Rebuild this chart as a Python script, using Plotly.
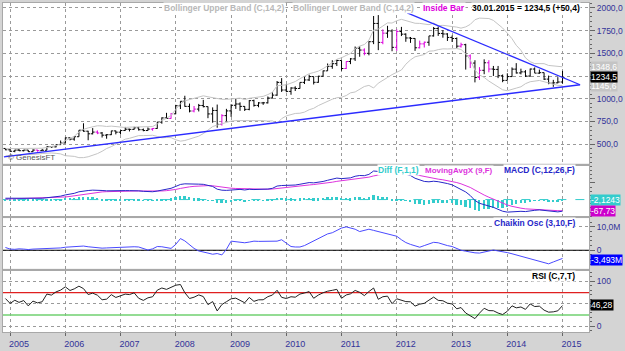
import numpy as np
import pandas as pd
import plotly.graph_objects as go

# ---------------- data (monthly bars, Dec 2004 .. Jan 2015) ----------------
dates = pd.date_range("2004-12-01", "2015-01-01", freq="MS")
# closes before the first visible bar (only used to warm up the indicators)
warmup_dates = pd.date_range("2004-01-01", "2004-11-01", freq="MS")
warmup_close = [400, 396, 424, 388, 395, 395, 391, 407, 416, 428, 453]

price_open = [453,
    438, 422, 435, 428, 435, 417, 435, 429, 433, 473, 470, 495,
    513, 569, 556, 582, 654, 643, 614, 633, 623, 599, 604, 646,
    632, 650, 665, 663, 680, 659, 650, 666, 673, 743, 789, 783,
    834, 923, 972, 916, 865, 886, 926, 913, 833, 871, 718, 814,
    866, 928, 942, 916, 883, 979, 927, 954, 955, 1008, 1040, 1180,
    1096, 1081, 1118, 1113, 1180, 1207, 1244, 1181, 1248, 1307, 1357, 1386,
    1421, 1333, 1410, 1439, 1556, 1536, 1500, 1628, 1829, 1620, 1722, 1746,
    1566, 1740, 1711, 1669, 1664, 1561, 1604, 1622, 1692, 1773, 1719, 1713,
    1675, 1663, 1579, 1595, 1472, 1393, 1234, 1313, 1396, 1327, 1323, 1253,
    1202, 1244, 1326, 1284, 1296, 1250, 1327, 1282, 1287, 1216, 1172, 1175,
    1184]
price_high = [456,
    444, 438, 447, 438, 436, 443, 438, 448, 474, 478, 498, 540,
    573, 574, 587, 654, 730, 647, 677, 651, 634, 610, 648, 649,
    652, 690, 670, 692, 691, 672, 684, 676, 745, 795, 845, 842,
    933, 973, 1033, 947, 920, 943, 988, 915, 905, 936, 830, 889,
    939, 1006, 960, 919, 985, 990, 963, 965, 1025, 1070, 1195, 1227,
    1162, 1127, 1137, 1180, 1249, 1265, 1245, 1253, 1310, 1388, 1424, 1432,
    1423, 1412, 1448, 1575, 1577, 1555, 1632, 1911, 1921, 1764, 1803, 1764,
    1764, 1791, 1720, 1680, 1666, 1640, 1630, 1692, 1790, 1796, 1755, 1722,
    1696, 1675, 1617, 1605, 1488, 1424, 1348, 1434, 1424, 1361, 1361, 1267,
    1280, 1345, 1392, 1331, 1315, 1332, 1345, 1321, 1288, 1255, 1208, 1238,
    1307]
price_low = [434,
    414, 411, 424, 420, 414, 414, 417, 429, 433, 460, 465, 490,
    513, 542, 538, 582, 637, 543, 608, 610, 573, 560, 600, 608,
    607, 647, 640, 660, 650, 642, 648, 648, 670, 725, 780, 780,
    830, 887, 913, 850, 850, 860, 905, 786, 736, 681, 705, 752,
    800, 888, 867, 865, 873, 913, 906, 933, 948, 1003, 1033, 1075,
    1072, 1044, 1085, 1111, 1162, 1195, 1157, 1176, 1245, 1307, 1330, 1360,
    1309, 1328, 1381, 1416, 1462, 1478, 1478, 1601, 1535, 1600, 1670, 1523,
    1527, 1690, 1627, 1615, 1527, 1554, 1564, 1583, 1684, 1692, 1672, 1636,
    1625, 1555, 1563, 1321, 1338, 1180, 1207, 1270, 1291, 1251, 1227, 1182,
    1202, 1240, 1277, 1268, 1240, 1241, 1282, 1274, 1206, 1160, 1131, 1170,
    1167]
price_close = [438,
    422, 435, 428, 435, 417, 435, 429, 433, 473, 470, 495, 513,
    569, 556, 582, 654, 643, 614, 633, 623, 599, 604, 646, 632,
    650, 665, 663, 680, 659, 650, 666, 673, 743, 789, 783, 834,
    923, 972, 916, 865, 886, 926, 913, 833, 871, 718, 814, 866,
    928, 942, 916, 883, 979, 927, 954, 955, 1008, 1040, 1180, 1096,
    1081, 1118, 1113, 1180, 1207, 1244, 1181, 1248, 1307, 1357, 1386, 1421,
    1333, 1410, 1439, 1556, 1536, 1500, 1628, 1829, 1620, 1722, 1746, 1566,
    1740, 1711, 1669, 1664, 1561, 1604, 1622, 1692, 1773, 1719, 1713, 1675,
    1663, 1579, 1595, 1472, 1393, 1234, 1313, 1396, 1327, 1323, 1253, 1202,
    1244, 1326, 1284, 1296, 1250, 1327, 1282, 1287, 1216, 1172, 1175, 1184.1,
    1234.5]
chaikin_m = [1.2,
    0.5, 0.4, 0.6, 0.5, 0.3, 0.5, 0.6, 0.4, 0.5, 0.7, 0.8, 1.0,
    1.3, 1.5, 1.6, 1.8, 1.8, 1.5, 1.2, 1.0, 0.9, 1.0, 1.1, 1.0,
    1.2, 1.5, 1.6, 1.5, 1.4, 0.8, 0.1, 0.6, 1.6, 1.5, 1.2, 0.8,
    2.5, 5.0, 4.0, 2.5, 0.8, -0.3, -0.6, -1.2, -1.7, -1.4, -2.0, 0.4,
    3.9, 3.6, 3.3, 3.2, 3.5, 3.9, 3.8, 3.9, 4.0, 3.8, 3.9, 4.5,
    3.0, 1.6, 1.4, 1.4, 2.0, 3.0, 4.2, 5.0, 6.0, 7.0, 7.5, 8.5,
    9.5, 10.0, 9.5, 9.0, 8.0, 8.5, 9.0, 8.5, 8.0, 7.5, 7.0, 6.5,
    6.0, 4.5, 3.3, 2.5, 1.8, 1.3, 2.0, 2.8, 3.4, 3.2, 2.5, 2.0,
    1.6, 0.8, 0.0, -0.4, -0.8, -1.1, -1.2, -0.7, -0.2, 0.1, -0.3, -0.8,
    -1.0, -1.5, -2.0, -2.6, -3.0, -3.5, -4.0, -4.6, -5.2, -5.8, -5.0, -4.3,
    -3.493]

support_dates = ["2004-11-21", "2015-04-27"]
support_vals = [361, 1154]
resist_dates = ["2012-03-10", "2015-04-27"]
resist_vals = [1946, 1154]

year_ticks = [f"{y}-01-01" for y in range(2005, 2016)]
year_labels = [str(y) for y in range(2005, 2016)]
price_tickvals = [500, 750, 1000, 1250, 1500, 1750, 2000]
price_ticktext = ["500,0", "750,0", "1000,0", "", "1500,0", "1750,0", "2000,0"]

last_boll_up, last_boll_lo, last_close = 1348.6, 1145.6, 1234.5
last_diff, last_signal = -2.1243, -67.73
last_chaikin = -3.493
last_rsi = 46.28
rsi_upper, rsi_lower = 75, 25

# ---------------- indicators ----------------
close_all = pd.Series(list(warmup_close) + list(price_close),
                      index=warmup_dates.append(dates), dtype=float)
mid = close_all.rolling(14, min_periods=3).mean()
sd = close_all.rolling(14, min_periods=3).std(ddof=0)
boll_up = (mid + 2 * sd).loc[dates]
boll_lo = (mid - 2 * sd).loc[dates]
ema12 = close_all.ewm(span=12, adjust=False).mean()
ema26 = close_all.ewm(span=26, adjust=False).mean()
macd_all = ema12 - ema26
signal_all = macd_all.ewm(span=9, adjust=False).mean()
macd = macd_all.loc[dates]; signal = signal_all.loc[dates]
diff = macd - signal
delta = close_all.diff()
gain = delta.clip(lower=0).ewm(alpha=1 / 7, adjust=False).mean()
loss = (-delta.clip(upper=0)).ewm(alpha=1 / 7, adjust=False).mean()
rsi = (100 - 100 / (1 + gain / loss)).loc[dates]

o = np.array(price_open, float); h = np.array(price_high, float)
l = np.array(price_low, float); c = np.array(price_close, float)
inside = np.zeros(len(c), bool)
inside[1:] = (h[1:] <= h[:-1]) & (l[1:] >= l[:-1])

def mask(a, m):
    a = a.copy(); a[~m] = np.nan; return a

# ---------------- figure ----------------
W, H = 625, 351
ML, MR, MT, MB = 2, 34, 2, 11
PW, PH = W - ML - MR, H - MT - MB
def px_x(px): return (px - ML) / PW
def px_y(py): return (H - MB - py) / PH

FONT = "Arial, Liberation Sans, sans-serif"
NAVY = "#333399"
GRID = "#9a9a9a"
x_lo = dates[0] - pd.Timedelta(days=40)
x_hi = dates[-1] + pd.Timedelta(days=180)

fig = go.Figure()
fig.add_trace(go.Scatter(x=dates, y=boll_up, mode="lines", line=dict(color="#c4c4c4", width=1),
                         xaxis="x", yaxis="y", hoverinfo="skip"))
fig.add_trace(go.Scatter(x=dates, y=boll_lo, mode="lines", line=dict(color="#c4c4c4", width=1),
                         xaxis="x", yaxis="y", hoverinfo="skip"))
fig.add_trace(go.Scatter(x=support_dates, y=support_vals, mode="lines",
                         line=dict(color="#2b2bff", width=1.3), xaxis="x", yaxis="y"))
fig.add_trace(go.Scatter(x=resist_dates, y=resist_vals, mode="lines",
                         line=dict(color="#2b2bff", width=1.3), xaxis="x", yaxis="y"))
for m, col in ((~inside, "#000000"), (inside, "#dd00dd")):
    fig.add_trace(go.Ohlc(x=dates, open=mask(o, m), high=mask(h, m), low=mask(l, m), close=mask(c, m),
                          increasing=dict(line=dict(color=col, width=1)),
                          decreasing=dict(line=dict(color=col, width=1)),
                          tickwidth=0.45, xaxis="x", yaxis="y"))

# MACD panel
fig.add_trace(go.Bar(x=dates, y=diff, marker=dict(color="#33cccc", line=dict(width=0)),
                     width=1000 * 3600 * 24 * 12, xaxis="x2", yaxis="y2"))
fig.add_trace(go.Scatter(x=[x_lo, x_hi], y=[0, 0],
                         mode="lines", line=dict(color="#33cccc", width=1, dash="dash"),
                         xaxis="x2", yaxis="y2"))
fig.add_trace(go.Scatter(x=dates, y=signal, mode="lines", line=dict(color="#dd33dd", width=1),
                         xaxis="x2", yaxis="y2"))
fig.add_trace(go.Scatter(x=dates, y=macd, mode="lines", line=dict(color="#2626c8", width=1),
                         xaxis="x2", yaxis="y2"))

# Chaikin panel
fig.add_trace(go.Scatter(x=[x_lo, x_hi], y=[0, 0],
                         mode="lines", line=dict(color="#000000", width=1), xaxis="x3", yaxis="y3"))
fig.add_trace(go.Scatter(x=dates, y=chaikin_m, mode="lines", line=dict(color="#4a4aff", width=1),
                         xaxis="x3", yaxis="y3"))

# RSI panel
for lvl, col in ((rsi_upper, "#e02020"), (rsi_lower, "#70d070")):
    fig.add_trace(go.Scatter(x=[x_lo, x_hi], y=[lvl, lvl], mode="lines", line=dict(color=col, width=1.3),
                             xaxis="x4", yaxis="y4"))
fig.add_trace(go.Scatter(x=dates, y=rsi, mode="lines", line=dict(color="#222222", width=1),
                         xaxis="x4", yaxis="y4"))

xr = ["2004-11-15", "2015-06-25"]
def xax(show, anchor):
    d = dict(range=xr, type="date", tickvals=year_ticks, ticktext=year_labels,
             showgrid=True, gridcolor=GRID, griddash="dot", gridwidth=1,
             showline=True, linecolor="#a8a8a8", mirror=True, zeroline=False,
             anchor=anchor, showticklabels=show, ticks="outside" if show else "",
             ticklen=3, tickcolor="#666", fixedrange=True,
             rangeslider=dict(visible=False),
             tickfont=dict(family=FONT, size=9, color=NAVY))
    if show:
        d["ticklabelshift"] = 9
    return d

def yax(domain, rng, tv=None, tt=None, minor_dtick=None, grid=True):
    d = dict(domain=domain, range=rng, side="right", showgrid=grid, gridcolor=GRID, griddash="dot",
             zeroline=False, showline=True, linecolor="#a8a8a8", mirror=True,
             ticks="outside", ticklen=5, tickcolor="#666",
             tickfont=dict(family=FONT, size=8.5, color=NAVY), fixedrange=True)
    if tv is not None:
        d.update(tickmode="array", tickvals=tv, ticktext=tt)
    if minor_dtick:
        d["minor"] = dict(ticks="outside", ticklen=2, dtick=minor_dtick, tickcolor="#666", showgrid=False)
    return d

fig.update_layout(
    width=W, height=H, margin=dict(l=ML, r=MR, t=MT, b=MB),
    paper_bgcolor="#d4d4d4", plot_bgcolor="#ffffff", showlegend=False,
    bargap=0,
    xaxis=xax(False, "y"), xaxis2=dict(xax(False, "y2"), matches="x"),
    xaxis3=dict(xax(False, "y3"), matches="x"), xaxis4=dict(xax(True, "y4"), matches="x"),
    yaxis=yax([px_y(167), 1.0], [286, 2054], price_tickvals, price_ticktext, 50),
    yaxis2=yax([px_y(221), px_y(169)], [-100, 205], [0, 100], ["", ""], 25, grid=False),
    yaxis3=yax([px_y(275), px_y(223)], [-7.9, 13.75], [0, 10], ["0", "10,0M"], 2),
    yaxis4=yax([0, px_y(277)], [-13, 124], [0, 50, 100], ["0", "", "100"], 10),
)

ann = []
def head(text, px, py, col, size=8.5, anchor="left"):
    ann.append(dict(text=f"<b>{text}</b>", x=px_x(px), y=px_y(py), xref="paper", yref="paper",
                    xanchor=anchor, yanchor="middle", showarrow=False, bgcolor="#ffffff", borderpad=0,
                    font=dict(family=FONT, size=size, color=col)))
head("Bollinger Upper Band (C,14,2)", 163, 7, "#b8b8b8")
head("Bollinger Lower Band (C,14,2)", 292, 7, "#b8b8b8")
head("Inside Bar", 423, 7, "#dd00dd")
head("30.01.2015 = 1234,5 (+50,4)", 472, 7, "#000000")
head("Diff (F,1,1)", 378, 174, "#33cccc")
head("MovingAvgX (9,F)", 425, 174, "#dd33dd", size=8)
head("MACD (C,12,26,F)", 578, 174, "#2626c8", anchor="right")
head("Chaikin Osc (3,10,F)", 578, 228, "#2626c8", anchor="right")
head("RSI (C,7,T)", 578, 282, "#000000", anchor="right")
ann.append(dict(text="© GenesisFT", x=px_x(5), y=px_y(161), xref="paper", yref="paper",
                xanchor="left", yanchor="middle", showarrow=False,
                font=dict(family=FONT, size=8, color="#555555")))

def box(text, val, yref, bg, fg="#ffffff", ys=0):
    ann.append(dict(text=text, x=1, y=val, xref="paper", yref=yref, xanchor="left", yanchor="middle",
                    xshift=1, yshift=ys, showarrow=False, bgcolor=bg, borderpad=0,
                    font=dict(family=FONT, size=8.5, color=fg)))
box("1348,6", last_boll_up, "y", "#c4c4c4")
box("1145,6", last_boll_lo, "y", "#c4c4c4")
box("1234,5", last_close, "y", "#000000")
box("-2,1243", last_diff, "y2", "#33cccc")
box("-67,73", last_signal, "y2", "#cc00cc")
box("-3,493M", last_chaikin, "y3", "#0000ff", ys=-2)
box("46,28", last_rsi, "y4", "#000000")
fig.update_layout(annotations=ann)

fig.write_html("out.html")
